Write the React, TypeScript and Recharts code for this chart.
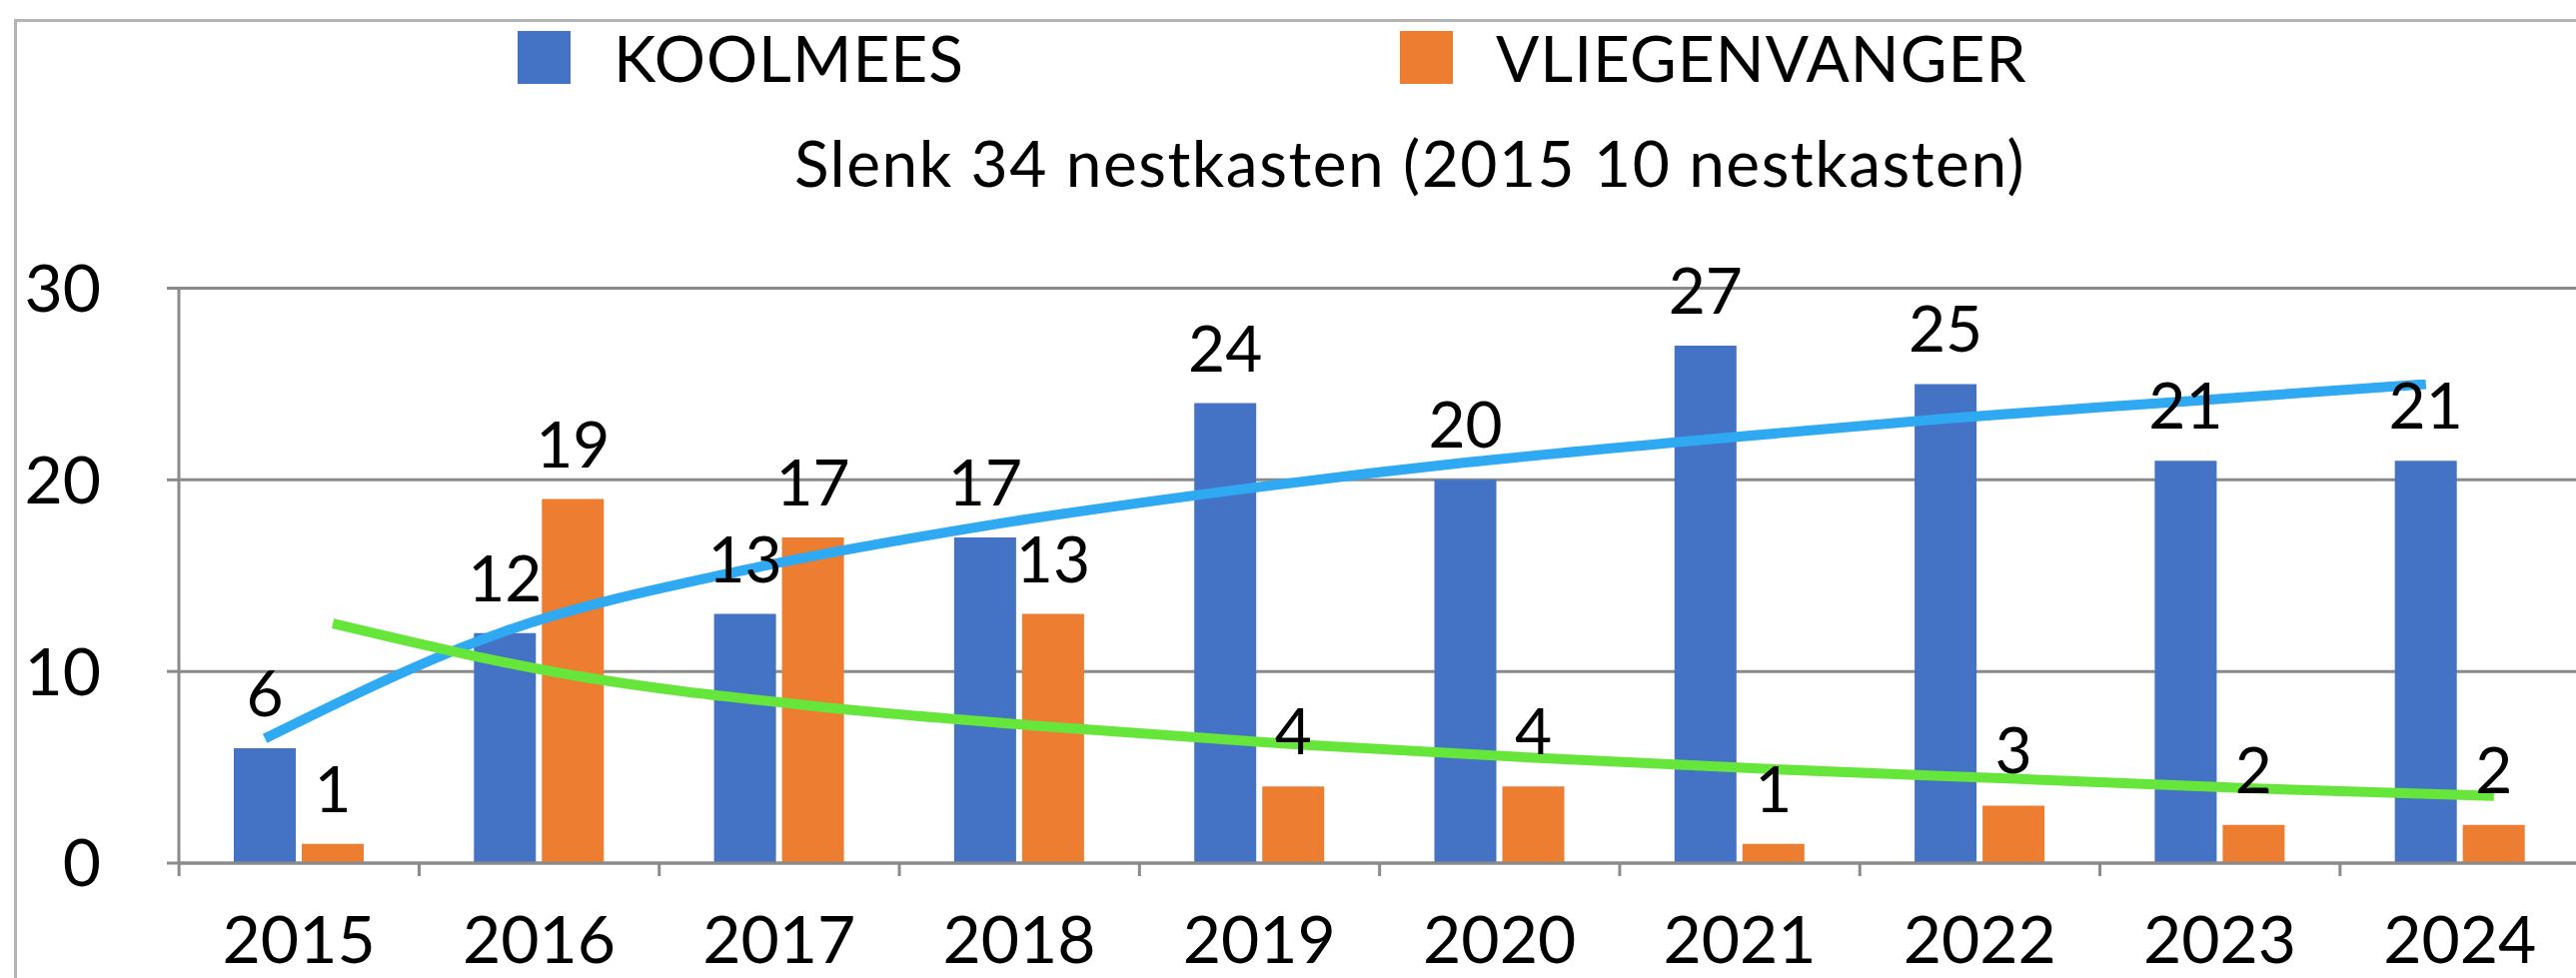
import {
  Bar,
  CartesianGrid,
  ComposedChart,
  LabelList,
  Legend,
  Line,
  XAxis,
  YAxis,
} from "recharts";

const years = ["2015", "2016", "2017", "2018", "2019", "2020", "2021", "2022", "2023", "2024"];
const koolmees = [6, 12, 13, 17, 24, 20, 27, 25, 21, 21];
const vliegenvanger = [1, 19, 17, 13, 4, 4, 1, 3, 2, 2];
// trend lines, one value per year
const koolmeesTrend = [6.5, 12.1, 15.3, 17.6, 19.4, 20.9, 22.1, 23.2, 24.1, 25];
const vliegenvangerTrend = [12.5, 9.8, 8.2, 7.1, 6.2, 5.5, 4.9, 4.4, 3.9, 3.5];
const yTicks = [0, 10, 20, 30];

const seriesNames = ["KOOLMEES", "VLIEGENVANGER"];
const title = "Slenk 34 nestkasten (2015 10 nestkasten)";

const FONT = "Lato, 'Open Sans', sans-serif";
const GRAY = "#8a8a8a";
const BLUE = "#4472C4";
const ORANGE = "#ED7D31";

const chartData = years.map((year, i) => ({
  year,
  koolmees: koolmees[i],
  vliegenvanger: vliegenvanger[i],
  koolmeesTrend: koolmeesTrend[i],
  vliegenvangerTrend: vliegenvangerTrend[i],
}));

const legendLeft = [518, 1401];

function renderLegend(props: any) {
  const payload = (props.payload || []).filter((entry: any) =>
    seriesNames.includes(entry.value)
  );
  return (
    <div style={{ position: "relative", height: 100 }}>
      {payload.map((entry: any, i: number) => (
        <div
          key={entry.value}
          style={{
            position: "absolute",
            left: legendLeft[i],
            top: 31,
            height: 53,
            display: "flex",
            alignItems: "center",
            whiteSpace: "nowrap",
          }}
        >
          <span
            style={{
              display: "inline-block",
              width: 53,
              height: 53,
              background: entry.color,
              marginRight: 43,
            }}
          />
          <span style={{ fontSize: 64, lineHeight: "64px", color: "#000", letterSpacing: 1 }}>
            {entry.value}
          </span>
        </div>
      ))}
    </div>
  );
}

const noTickLabel = () => <g />;

export default function App() {
  return (
    <div
      style={{
        position: "relative",
        width: 2578,
        height: 979,
        overflow: "hidden",
        background: "#fff",
        fontFamily: FONT,
      }}
    >
      <style>{"body{margin:0}"}</style>
      <div
        style={{
          position: "absolute",
          left: 14,
          top: 19,
          width: 2700,
          height: 1100,
          borderLeft: "3px solid #b4b4b4",
          borderTop: "3px solid #b4b4b4",
        }}
      />
      <div
        style={{
          position: "absolute",
          left: 0,
          width: 2822,
          top: 131,
          textAlign: "center",
          fontSize: 64,
          lineHeight: "64px",
          letterSpacing: 1.5,
          color: "#000",
          whiteSpace: "nowrap",
        }}
      >
        {title}
      </div>
      <ComposedChart
        width={2600}
        height={979}
        data={chartData}
        margin={{ top: 288.5, right: 18, bottom: 0, left: 0 }}
        barCategoryGap={55}
        barGap={6}
      >
        <CartesianGrid vertical={false} stroke={GRAY} strokeWidth={3} />
        <XAxis
          dataKey="year"
          height={1}
          interval={0}
          tickLine={false}
          axisLine={{ stroke: GRAY, strokeWidth: 3 }}
          tickSize={12}
          tickMargin={41}
          tick={{ fill: "#000", fontSize: 66, fontFamily: FONT }}
        />
        <XAxis
          xAxisId="bounds"
          dataKey="year"
          height={114}
          padding={{ left: -120, right: 120 }}
          axisLine={false}
          tick={noTickLabel}
          tickLine={{ stroke: GRAY, strokeWidth: 3 }}
          tickSize={12}
          interval={0}
        />
        <XAxis xAxisId="kt" dataKey="year" hide padding={{ left: -34, right: 34 }} />
        <XAxis xAxisId="vt" dataKey="year" hide padding={{ left: 34, right: -34 }} />
        <YAxis
          width={179}
          domain={[0, 30]}
          ticks={yTicks}
          interval={0}
          axisLine={{ stroke: GRAY, strokeWidth: 3 }}
          tickLine={{ stroke: GRAY, strokeWidth: 3 }}
          tickSize={12}
          tickMargin={66}
          tick={{ fill: "#000", fontSize: 66, fontFamily: FONT }}
        />
        <Legend
          layout="horizontal"
          verticalAlign="middle"
          align="center"
          wrapperStyle={{ top: 0, left: 0, width: 2578, height: 100 }}
          content={renderLegend}
        />
        <Bar dataKey="koolmees" name={seriesNames[0]} fill={BLUE} isAnimationActive={false}>
          <LabelList
            dataKey="koolmees"
            position="top"
            offset={32}
            fill="#000"
            fontSize={64}
            fontFamily={FONT}
          />
        </Bar>
        <Bar dataKey="vliegenvanger" name={seriesNames[1]} fill={ORANGE} isAnimationActive={false}>
          <LabelList
            dataKey="vliegenvanger"
            position="top"
            offset={32}
            fill="#000"
            fontSize={64}
            fontFamily={FONT}
          />
        </Bar>
        <Line
          xAxisId="kt"
          dataKey="koolmeesTrend"
          type="monotone"
          stroke="#2FA9F2"
          strokeWidth={10}
          dot={false}
          activeDot={false}
          legendType="none"
          isAnimationActive={false}
        />
        <Line
          xAxisId="vt"
          dataKey="vliegenvangerTrend"
          type="monotone"
          stroke="#66E63A"
          strokeWidth={10}
          dot={false}
          activeDot={false}
          legendType="none"
          isAnimationActive={false}
        />
      </ComposedChart>
    </div>
  );
}
